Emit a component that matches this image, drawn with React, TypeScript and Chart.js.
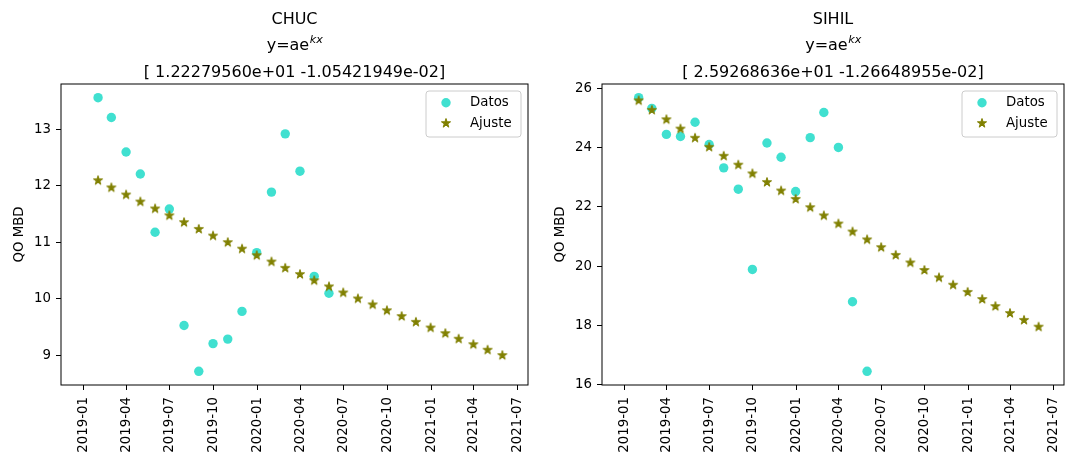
import React, { useEffect, useRef } from "react";
import { Chart, registerables } from "chart.js";

Chart.register(...registerables);

const FONT = "'DejaVu Sans', sans-serif";

// Month of each point (month-end dates)
const months = [
  "2019-01", "2019-02", "2019-03", "2019-04", "2019-05", "2019-06", "2019-07", "2019-08",
  "2019-09", "2019-10", "2019-11", "2019-12", "2020-01", "2020-02", "2020-03", "2020-04",
  "2020-05", "2020-06", "2020-07", "2020-08", "2020-09", "2020-10", "2020-11", "2020-12",
  "2021-01", "2021-02", "2021-03", "2021-04", "2021-05",
];

const chucDatos = [13.56, 13.21, 12.60, 12.21, 11.18, 11.59, 9.53, 8.72, 9.21, 9.29, 9.78, 10.82, 11.89, 12.92, 12.26, 10.40, 10.10];
const chucAjuste = [12.0997, 11.9728, 11.8473, 11.7230, 11.6001, 11.4785, 11.3581, 11.2390, 11.1211, 11.0045, 10.8891, 10.7749, 10.6619, 10.5501, 10.4395, 10.3300, 10.2216, 10.1145, 10.0084, 9.9034, 9.7996, 9.6968, 9.5951, 9.4945, 9.3949, 9.2964, 9.1989, 9.1025, 9.0070];

const sihilDatos = [25.69, 25.33, 24.45, 24.38, 24.86, 24.11, 23.32, 22.60, 19.89, 24.16, 23.68, 22.52, 24.34, 25.19, 24.01, 18.80, 16.45];
const sihilAjuste = [25.6006, 25.2784, 24.9603, 24.6461, 24.3360, 24.0297, 23.7273, 23.4287, 23.1338, 22.8427, 22.5552, 22.2714, 21.9911, 21.7143, 21.4410, 21.1712, 20.9048, 20.6417, 20.3819, 20.1254, 19.8721, 19.6220, 19.3751, 19.1313, 18.8905, 18.6527, 18.4180, 18.1862, 17.9573];

const xTickLabels = ["2019-01", "2019-04", "2019-07", "2019-10", "2020-01", "2020-04", "2020-07", "2020-10", "2021-01", "2021-04", "2021-07"];
const xLimits = ["2018-11-14", "2021-07-24"];

const chucYTicks = [9, 10, 11, 12, 13];
const sihilYTicks = [16, 18, 20, 22, 24, 26];

const chucParams = "[ 1.22279560e+01 -1.05421949e-02]";
const sihilParams = "[ 2.59268636e+01 -1.26648955e-02]";

const DATOS_COLOR = "#40E0D0";
const AJUSTE_COLOR = "#808000";

function monthEnd(m: string): number {
  const [y, mo] = m.split("-").map(Number);
  return Date.UTC(y, mo, 0);
}
function monthStart(m: string): number {
  const [y, mo] = m.split("-").map(Number);
  return Date.UTC(y, mo - 1, 1);
}
function dayMs(s: string): number {
  const [y, m, d] = s.split("-").map(Number);
  return Date.UTC(y, m - 1, d);
}

const xTickValues = xTickLabels.map(monthStart);

function makeStar(): HTMLCanvasElement {
  const c = document.createElement("canvas");
  c.width = 12;
  c.height = 12;
  const ctx = c.getContext("2d")!;
  const cx = 6, cy = 6.3, R = 4.8, r = R * 0.382;
  ctx.beginPath();
  for (let i = 0; i < 10; i++) {
    const ang = -Math.PI / 2 + (i * Math.PI) / 5;
    const rad = i % 2 === 0 ? R : r;
    const px = cx + rad * Math.cos(ang);
    const py = cy + rad * Math.sin(ang);
    if (i === 0) ctx.moveTo(px, py);
    else ctx.lineTo(px, py);
  }
  ctx.closePath();
  ctx.fillStyle = AJUSTE_COLOR;
  ctx.fill();
  ctx.strokeStyle = AJUSTE_COLOR;
  ctx.lineWidth = 1;
  ctx.lineJoin = "round";
  ctx.stroke();
  return c;
}

type PanelProps = {
  name: string;
  params: string;
  datos: number[];
  ajuste: number[];
  yTicks: number[];
  padLeft: number;
  padRight: number;
};

function Panel({ name, params, datos, ajuste, yTicks, padLeft, padRight }: PanelProps) {
  const ref = useRef<HTMLCanvasElement>(null);

  useEffect(() => {
    const star = makeStar();
    const all = [...datos, ...ajuste];
    const dMin = Math.min(...all);
    const dMax = Math.max(...all);
    const margin = (dMax - dMin) * 0.05;

    const decorPlugin = {
      id: "decor",
      afterDatasetsDraw(chart: any) {
        const ctx = chart.ctx;
        const ca = chart.chartArea;
        ctx.save();
        // frame
        ctx.strokeStyle = "#000";
        ctx.lineWidth = 1;
        ctx.strokeRect(ca.left, ca.top, ca.right - ca.left, ca.bottom - ca.top);

        // legend
        const boxW = 95, boxH = 46;
        const bx = ca.right - 7 - boxW;
        const by = ca.top + 7;
        ctx.beginPath();
        if ((ctx as any).roundRect) (ctx as any).roundRect(bx, by, boxW, boxH, 3);
        else ctx.rect(bx, by, boxW, boxH);
        ctx.fillStyle = "rgba(255,255,255,0.8)";
        ctx.fill();
        ctx.strokeStyle = "#cccccc";
        ctx.lineWidth = 1;
        ctx.stroke();

        const mx = bx + 20;
        const r1 = by + 11.7;
        const r2 = by + 32.3;
        ctx.beginPath();
        ctx.arc(mx, r1, 4.7, 0, Math.PI * 2);
        ctx.fillStyle = DATOS_COLOR;
        ctx.fill();
        ctx.drawImage(star, mx - 6, r2 - 6.3);

        ctx.fillStyle = "#000";
        ctx.font = `13.33px ${FONT}`;
        ctx.textAlign = "left";
        ctx.textBaseline = "middle";
        ctx.fillText("Datos", bx + 44, r1);
        ctx.fillText("Ajuste", bx + 44, r2);
        ctx.restore();
      },
      afterDraw(chart: any) {
        const ctx = chart.ctx;
        const ca = chart.chartArea;
        const cx = (ca.left + ca.right) / 2;
        ctx.save();
        ctx.fillStyle = "#000";
        ctx.textBaseline = "alphabetic";
        ctx.textAlign = "center";
        ctx.font = `16px ${FONT}`;
        ctx.fillText(name, cx, 23.5);

        const base = "y=ae";
        const sup = "kx";
        ctx.font = `16px ${FONT}`;
        const w1 = ctx.measureText(base).width;
        ctx.font = `italic 11.2px ${FONT}`;
        const w2 = ctx.measureText(sup).width;
        const start = cx - (w1 + w2) / 2;
        ctx.textAlign = "left";
        ctx.font = `16px ${FONT}`;
        ctx.fillText(base, start, 50);
        ctx.font = `italic 11.2px ${FONT}`;
        ctx.fillText(sup, start + w1 + 0.5, 43);

        ctx.textAlign = "center";
        ctx.font = `16px ${FONT}`;
        ctx.fillText(params, cx, 76.5);
        ctx.restore();
      },
    };

    const tickFont = { family: FONT, size: 13.33 };
    const gridOpts = {
      display: true,
      drawOnChartArea: false,
      drawTicks: true,
      tickLength: 5,
      tickColor: "#000",
      tickWidth: 1,
    };

    const chart = new Chart(ref.current!, {
      type: "scatter",
      data: {
        datasets: [
          {
            label: "Ajuste",
            data: ajuste.map((v, i) => ({ x: monthEnd(months[i]), y: v })),
            pointStyle: star as any,
            pointRadius: 5,
            order: 0,
          },
          {
            label: "Datos",
            data: datos.map((v, i) => ({ x: monthEnd(months[i]), y: v })),
            pointStyle: "circle",
            pointRadius: 4.7,
            backgroundColor: DATOS_COLOR,
            borderWidth: 0,
            order: 1,
          },
        ],
      },
      options: {
        responsive: false,
        maintainAspectRatio: false,
        animation: false,
        events: [],
        layout: { padding: { left: padLeft, right: padRight, top: 84, bottom: 0 } },
        plugins: {
          legend: { display: false },
          tooltip: { enabled: false },
          title: { display: false },
        },
        scales: {
          x: {
            type: "linear",
            min: dayMs(xLimits[0]),
            max: dayMs(xLimits[1]),
            afterBuildTicks: (s: any) => {
              s.ticks = xTickValues.map((v) => ({ value: v }));
            },
            afterFit: (s: any) => {
              s.height = 75;
              s.paddingLeft = 0;
              s.paddingRight = 0;
            },
            ticks: {
              autoSkip: false,
              minRotation: 90,
              maxRotation: 90,
              padding: 7,
              color: "#000",
              font: tickFont,
              callback: (v: any) => {
                const i = xTickValues.indexOf(Number(v));
                return i >= 0 ? xTickLabels[i] : "";
              },
            },
            grid: gridOpts,
            border: { display: false },
          },
          y: {
            type: "linear",
            min: dMin - margin,
            max: dMax + margin,
            afterBuildTicks: (s: any) => {
              s.ticks = yTicks.map((v) => ({ value: v }));
            },
            afterFit: (s: any) => {
              s.width = 61;
              s.paddingTop = 0;
              s.paddingBottom = 0;
            },
            ticks: {
              padding: 5,
              color: "#000",
              font: tickFont,
              callback: (v: any) => String(v),
            },
            title: {
              display: true,
              text: "QO MBD",
              color: "#000",
              font: tickFont,
              padding: { top: 12, bottom: 0 },
            },
            grid: gridOpts,
            border: { display: false },
          },
        },
      },
      plugins: [decorPlugin],
    } as any);

    return () => chart.destroy();
  }, [name, params, datos, ajuste, yTicks, padLeft, padRight]);

  return <canvas ref={ref} width={535} height={460} style={{ display: "block" }} />;
}

export default function App() {
  return (
    <div
      style={{
        position: "absolute",
        left: 0,
        top: 0,
        width: 1070,
        height: 460,
        background: "#fff",
      }}
    >
      <div style={{ position: "absolute", left: 0, top: 0 }}>
        <Panel name="CHUC" params={chucParams} datos={chucDatos} ajuste={chucAjuste} yTicks={chucYTicks} padLeft={0} padRight={7} />
      </div>
      <div style={{ position: "absolute", left: 535, top: 0 }}>
        <Panel name="SIHIL" params={sihilParams} datos={sihilDatos} ajuste={sihilAjuste} yTicks={sihilYTicks} padLeft={6} padRight={2} />
      </div>
    </div>
  );
}
